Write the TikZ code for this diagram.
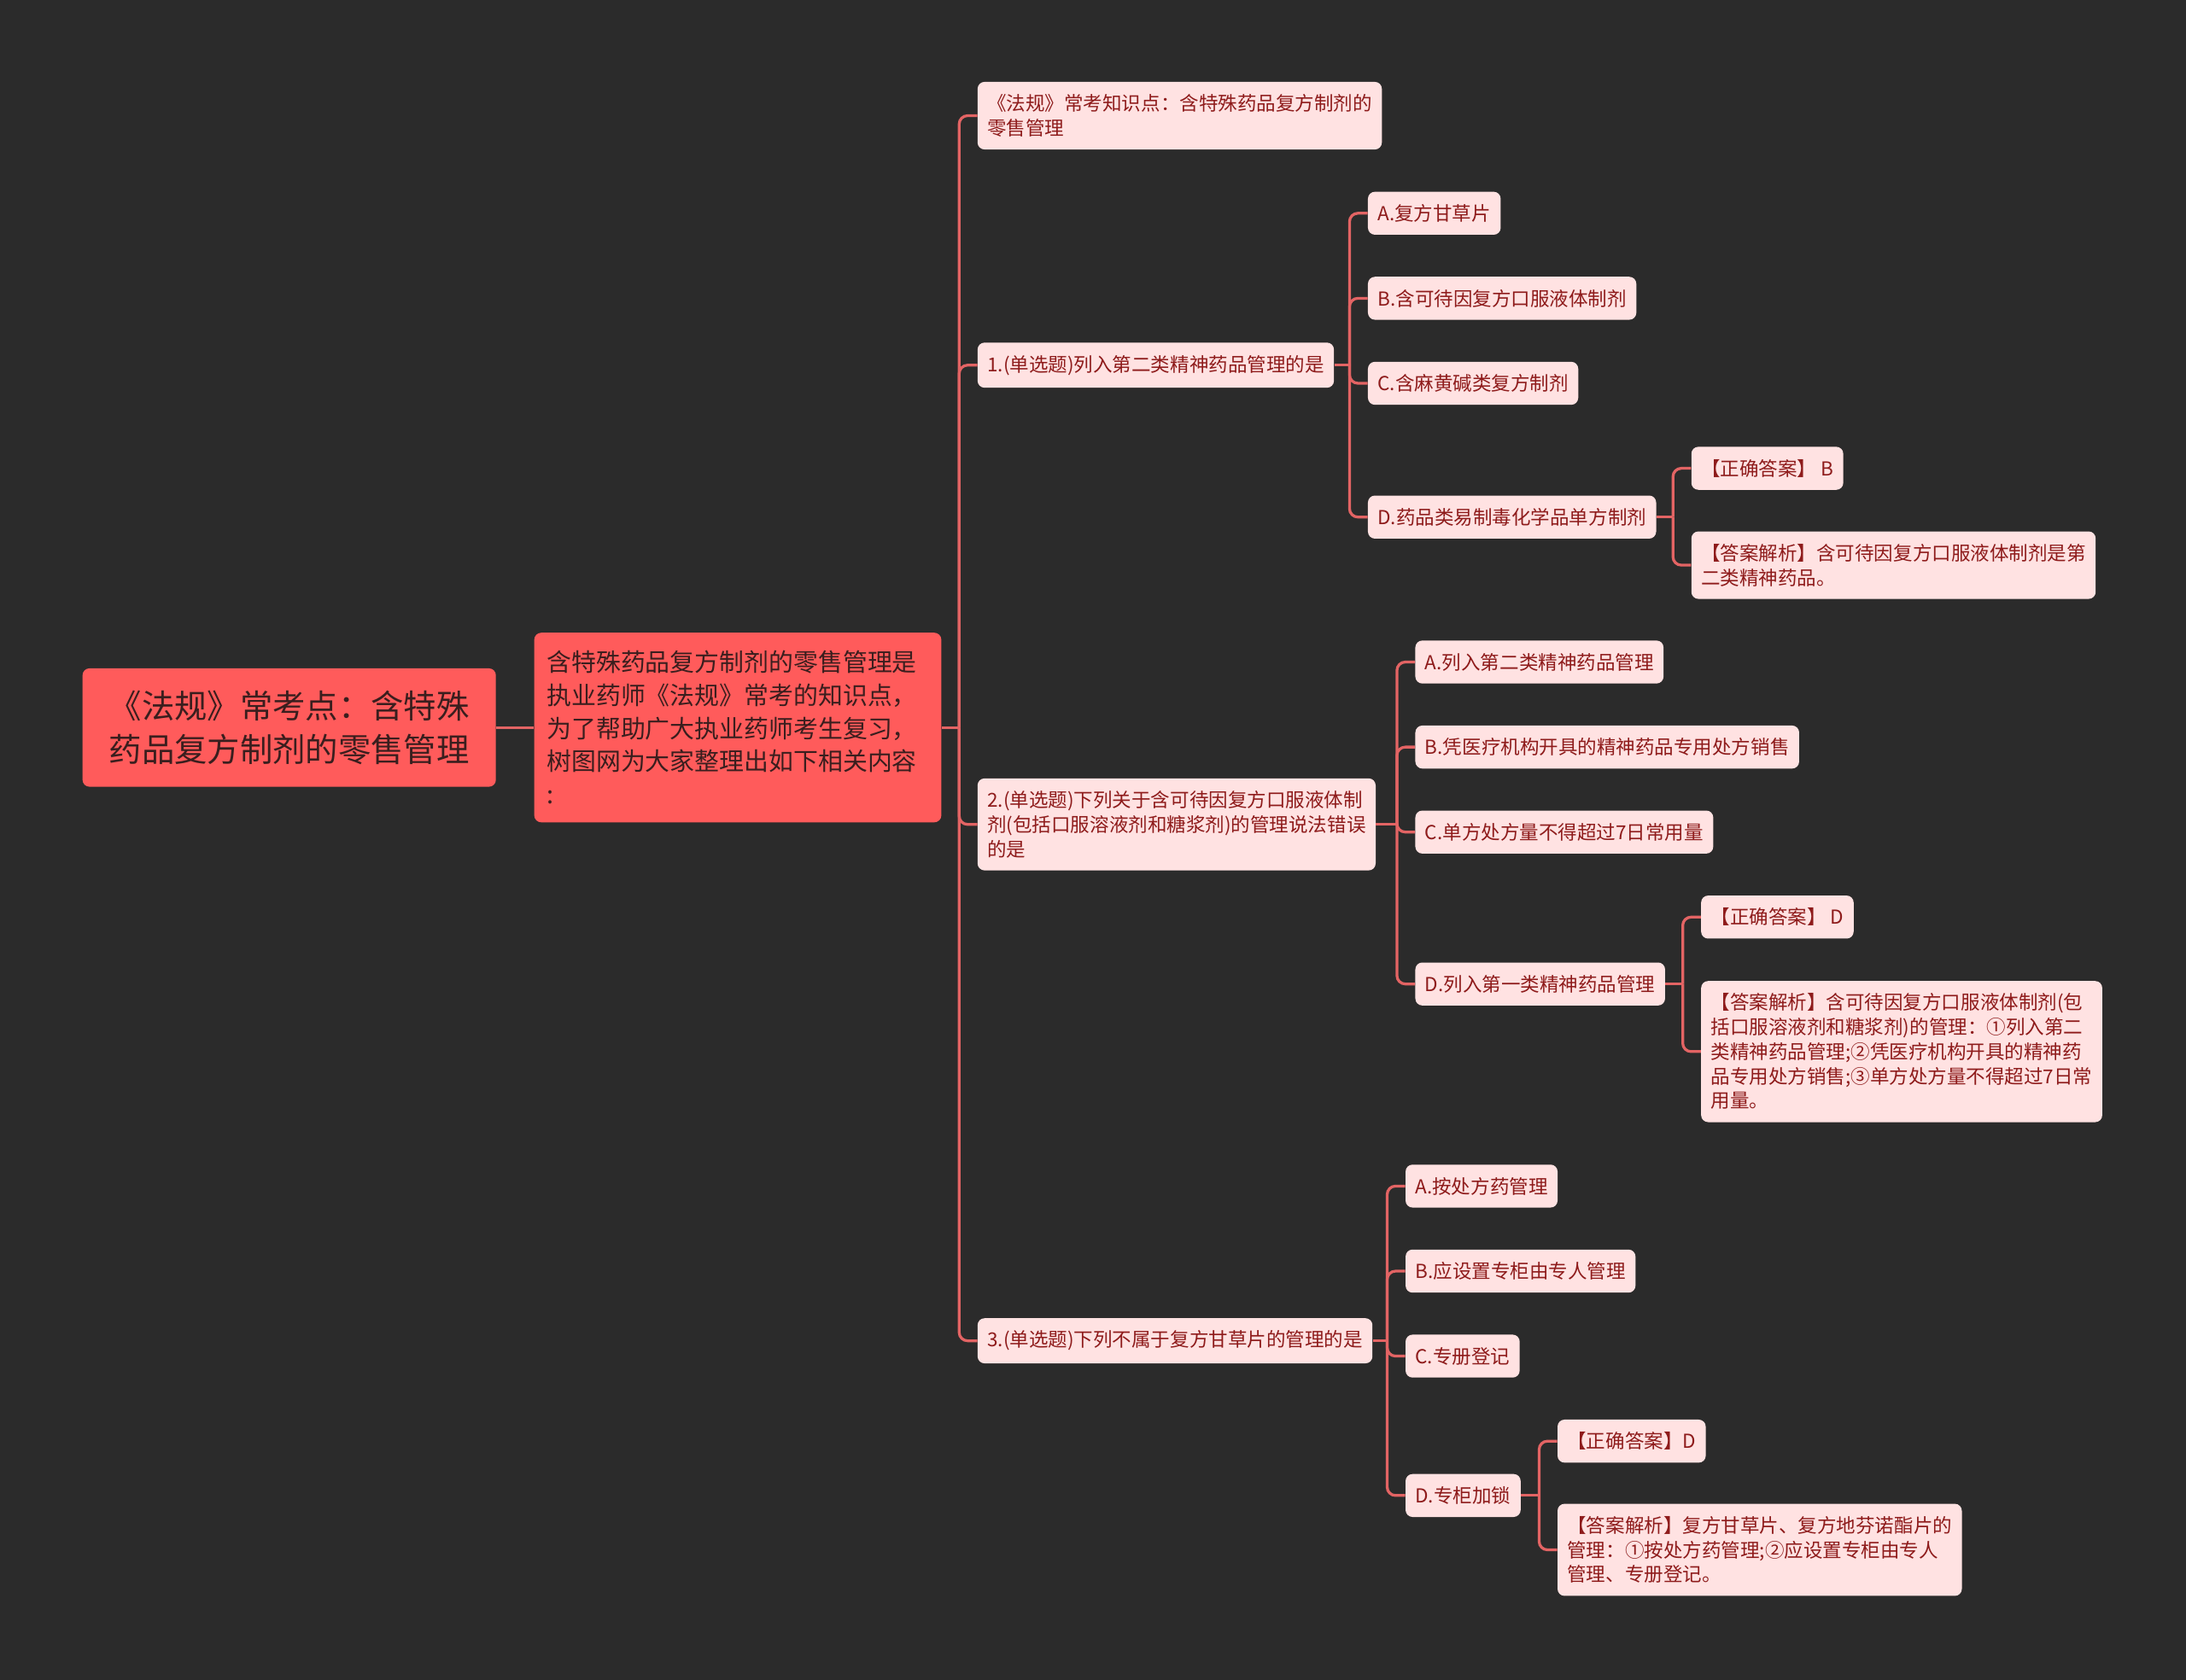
\documentclass[tikz,border=0pt]{standalone}
\usepackage{fontspec}
\setmainfont{Noto Sans CJK SC}
\usetikzlibrary{positioning,calc}
\definecolor{canvas}{HTML}{2B2B2B}
\definecolor{rootred}{HTML}{FF5B5B}
\definecolor{inkdark}{HTML}{3A1E1E}
\definecolor{leafpink}{HTML}{FFE2E2}
\definecolor{leafink}{HTML}{8E1B1B}
\definecolor{linkred}{HTML}{E36464}
\tikzset{
  rootbox/.style={fill=rootred,text=inkdark,rounded corners=5pt,inner xsep=19pt,
    inner ysep=16pt,align=center,anchor=west,font=\fontsize{23.5}{31}\selectfont},
  introbox/.style={fill=rootred,text=inkdark,rounded corners=5pt,inner xsep=9pt,
    inner ysep=13pt,align=left,anchor=west,text width=274pt,
    font=\fontsize{17.7}{23.7}\selectfont},
  leaf/.style={fill=leafpink,text=leafink,rounded corners=5pt,inner xsep=7pt,
    inner ysep=9pt,minimum height=30pt,align=left,anchor=west,
    font=\fontsize{13.8}{17.6}\selectfont},
  link/.style={draw=linkred,line width=2pt,rounded corners=6pt}}
\begin{document}
\begin{tikzpicture}[x=1pt,y=-1pt]
\path[use as bounding box] (0,0) rectangle (1568,1205);
\fill[canvas] (-3,-3) rectangle (1571,1208);

\node[rootbox] (root) at (59,522) {《法规》常考点：含特殊\\药品复方制剂的零售管理};
\node[introbox] (intro) at (383,522) {含特殊药品复方制剂的零售管理是\\执业药师《法规》常考的知识点，\\为了帮助广大执业药师考生复习，\\树图网为大家整理出如下相关内容\\:};

\node[leaf] (t0) at (701,83) {《法规》常考知识点：含特殊药品复方制剂的\\零售管理};
\node[leaf] (q1) at (701,262) {1.(单选题)列入第二类精神药品管理的是};
\node[leaf] (q2) at (701,591.5) {2.(单选题)下列关于含可待因复方口服液体制\\剂(包括口服溶液剂和糖浆剂)的管理说法错误\\的是};
\node[leaf] (q3) at (701,962) {3.(单选题)下列不属于复方甘草片的管理的是};

\node[leaf] (q1a) at (981,153) {A.复方甘草片};
\node[leaf] (q1b) at (981,214) {B.含可待因复方口服液体制剂};
\node[leaf] (q1c) at (981,275) {C.含麻黄碱类复方制剂};
\node[leaf] (q1d) at (981,371) {D.药品类易制毒化学品单方制剂};
\node[leaf] (q1k) at (1213,336) {【正确答案】 B};
\node[leaf] (q1e) at (1213,405.5) {【答案解析】含可待因复方口服液体制剂是第\\二类精神药品。};

\node[leaf] (q2a) at (1015,475) {A.列入第二类精神药品管理};
\node[leaf] (q2b) at (1015,536) {B.凭医疗机构开具的精神药品专用处方销售};
\node[leaf] (q2c) at (1015,597) {C.单方处方量不得超过7日常用量};
\node[leaf] (q2d) at (1015,706) {D.列入第一类精神药品管理};
\node[leaf] (q2k) at (1220,658) {【正确答案】 D};
\node[leaf] (q2e) at (1220,754.5) {【答案解析】含可待因复方口服液体制剂(包\\括口服溶液剂和糖浆剂)的管理：①列入第二\\类精神药品管理;②凭医疗机构开具的精神药\\品专用处方销售;③单方处方量不得超过7日常\\用量。};

\node[leaf] (q3a) at (1008,851) {A.按处方药管理};
\node[leaf] (q3b) at (1008,912) {B.应设置专柜由专人管理};
\node[leaf] (q3c) at (1008,973) {C.专册登记};
\node[leaf] (q3d) at (1008,1073) {D.专柜加锁};
\node[leaf] (q3k) at (1117,1034) {【正确答案】D};
\node[leaf] (q3e) at (1117,1112) {【答案解析】复方甘草片、复方地芬诺酯片的\\管理：①按处方药管理;②应设置专柜由专人\\管理、专册登记。};

\draw[link] (root.east) -- (intro.west);
\path (t0.west) ++(-13,0) coordinate (mx);
\draw[link] (intro.east) -- (mx |- intro.east);
\foreach \k in {t0,q1,q2,q3} \draw[link] (mx |- intro.east) |- (\k.west);

\path (q1a.west) ++(-13,0) coordinate (q1x);
\draw[link] (q1.east) -- (q1x |- q1.east);
\foreach \k in {q1a,q1b,q1c,q1d} \draw[link] (q1x |- q1.east) |- (\k.west);
\path (q1k.west) ++(-13,0) coordinate (q1dx);
\draw[link] (q1d.east) -- (q1dx |- q1d.east);
\foreach \k in {q1k,q1e} \draw[link] (q1dx |- q1d.east) |- (\k.west);

\path (q2a.west) ++(-13,0) coordinate (q2x);
\draw[link] (q2.east) -- (q2x |- q2.east);
\foreach \k in {q2a,q2b,q2c,q2d} \draw[link] (q2x |- q2.east) |- (\k.west);
\path (q2k.west) ++(-13,0) coordinate (q2dx);
\draw[link] (q2d.east) -- (q2dx |- q2d.east);
\foreach \k in {q2k,q2e} \draw[link] (q2dx |- q2d.east) |- (\k.west);

\path (q3a.west) ++(-13,0) coordinate (q3x);
\draw[link] (q3.east) -- (q3x |- q3.east);
\foreach \k in {q3a,q3b,q3c,q3d} \draw[link] (q3x |- q3.east) |- (\k.west);
\path (q3k.west) ++(-13,0) coordinate (q3dx);
\draw[link] (q3d.east) -- (q3dx |- q3d.east);
\foreach \k in {q3k,q3e} \draw[link] (q3dx |- q3d.east) |- (\k.west);
\end{tikzpicture}
\end{document}
